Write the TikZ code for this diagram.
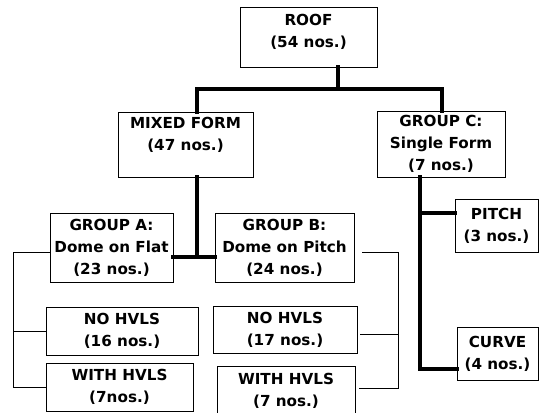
\documentclass[tikz,border=0pt]{standalone}
\usepackage{fontspec}
\setmainfont{DejaVu Sans}
\begin{document}
\begin{tikzpicture}[x=1pt,y=-1pt,
  box/.style={draw=black,line width=0.9pt,fill=white,align=center,inner sep=0pt,
    font=\bfseries\fontsize{15.2}{22}\selectfont},
  thickline/.style={line width=4.5pt,line cap=rect},
  thinline/.style={line width=1pt}]
\useasboundingbox[fill=white] (0,0) rectangle (540,412);
% boxes
\node[box,minimum width=137pt,minimum height=60pt] (roof) at (308.5,37) {ROOF\\(54 nos.)\\[-10pt]\mbox{}};
\node[box,minimum width=135pt,minimum height=65pt] (mixed) at (185.5,144.5) {MIXED FORM\\(47 nos.)\\\mbox{}};
\node[box,minimum width=128pt,minimum height=66pt] (groupC) at (441,144) {GROUP C:\\Single Form\\(7 nos.)};
\node[box,minimum width=123pt,minimum height=69pt] (groupA) at (111.5,247.5) {GROUP A:\\Dome on Flat\\(23 nos.)};
\node[box,minimum width=139pt,minimum height=69pt] (groupB) at (284.5,247.5) {GROUP B:\\Dome on Pitch\\(24 nos.)};
\node[box,minimum width=152pt,minimum height=48pt] (noA) at (122,331) {NO HVLS\\(16 nos.)};
\node[box,minimum width=147pt,minimum height=48pt] (withA) at (119.5,387) {WITH HVLS\\(7nos.)};
\node[box,minimum width=144pt,minimum height=47pt] (noB) at (285,329.5) {NO HVLS\\(17 nos.)};
\node[box,minimum width=138pt,minimum height=50pt] (withB) at (286,391) {WITH HVLS\\(7 nos.)};
\node[box,minimum width=83pt,minimum height=53pt] (pitch) at (496.5,225.5) {PITCH\\(3 nos.)};
\node[box,minimum width=81pt,minimum height=53pt] (curve) at (497.5,353.5) {CURVE\\(4 nos.)};
% junction coordinates
\coordinate (jr) at (338,89);
\coordinate (jm) at (197,89);
\coordinate (jc) at (442,89);
\coordinate (jab) at (197,257);
\coordinate (cv) at (420,177);
\coordinate (cp) at (420,213);
\coordinate (cc) at (420,369);
\coordinate (la) at (13,252);
\coordinate (lb) at (398,252);
% thick connectors
\draw[thickline] (roof.south -| jr) -- (jr);
\draw[thickline] (mixed.north -| jm) -- (jm) -- (jc) -- (groupC.north -| jc);
\draw[thickline] (mixed.south -| jab) -- (jab);
\draw[thickline] (groupA.east |- jab) -- (groupB.west |- jab);
\draw[thickline] (cv) -- (cc) -- (curve.west |- cc);
\draw[thickline] (cp) -- (pitch.west |- cp);
% thin connectors
\draw[thinline] (groupA.west |- la) -- (la) -- (la |- withA.west) -- (withA.west);
\draw[thinline] (la |- noA.west) -- (noA.west);
\draw[thinline] ([xshift=8pt]groupB.east |- lb) -- (lb) -- (lb |- 0,388) -- ([xshift=4pt]withB.east |- 0,388);
\draw[thinline] (lb |- 0,334) -- ([xshift=3pt]noB.east |- 0,334);
\end{tikzpicture}
\end{document}
